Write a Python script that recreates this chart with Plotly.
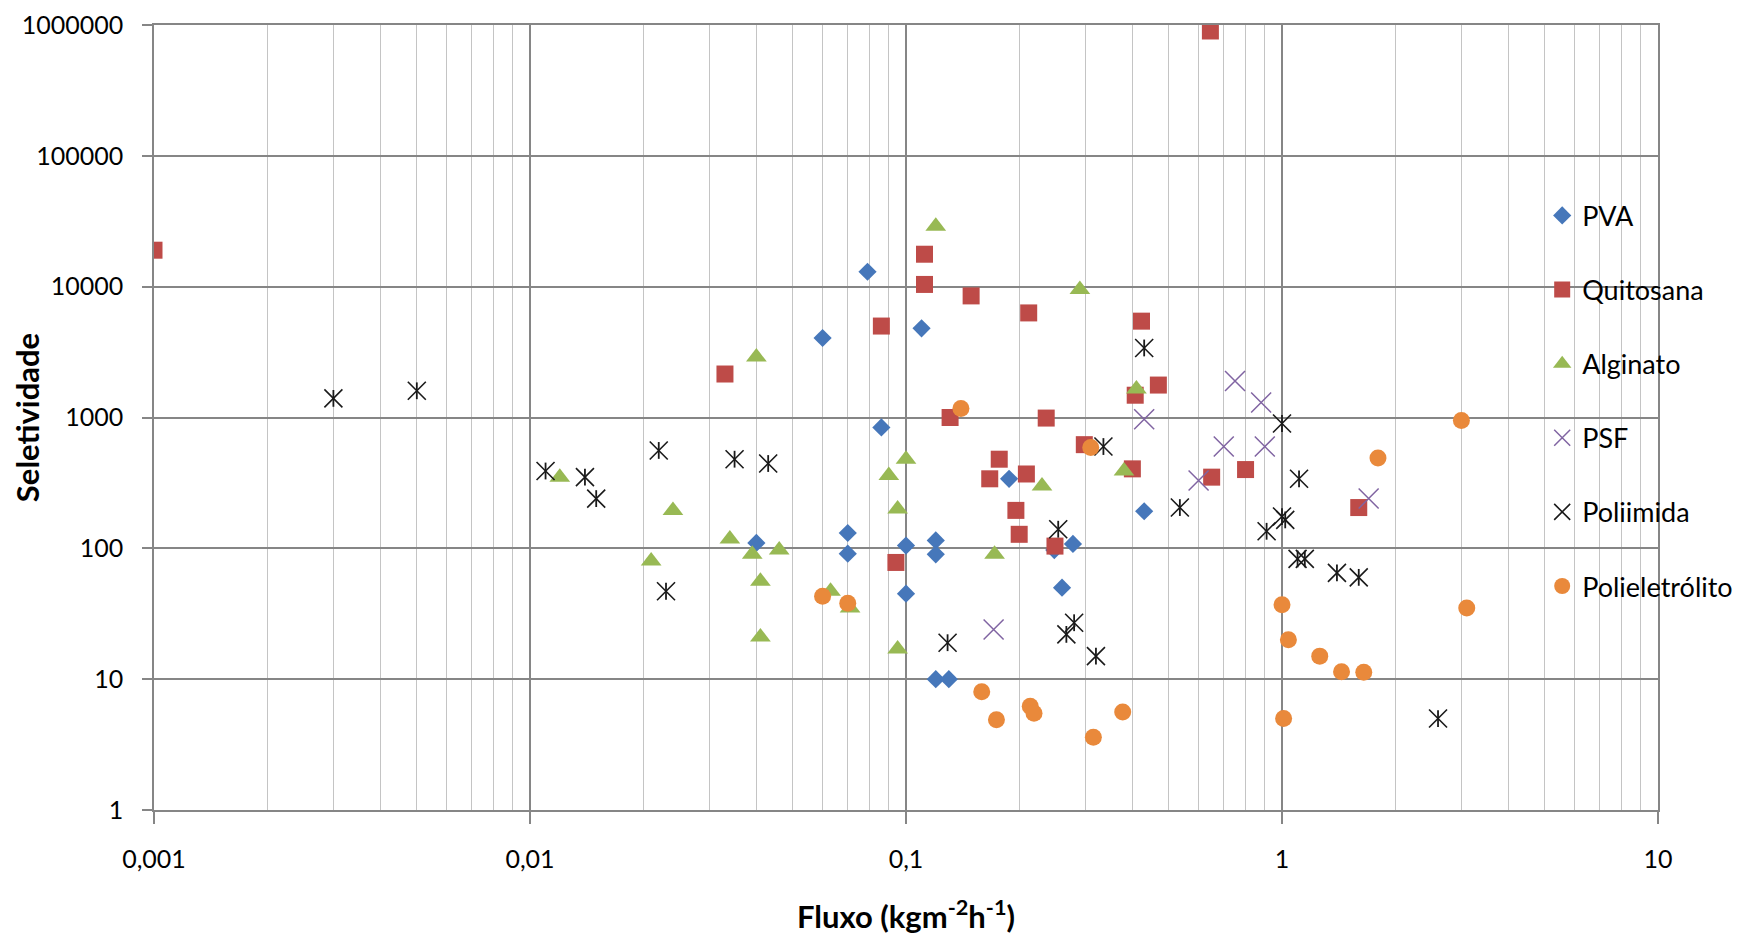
import plotly.graph_objects as go

# ---------------- data ----------------
pva_x = [0.079, 0.06, 0.11, 0.086, 0.188, 0.43, 0.04, 0.07, 0.07, 0.1, 0.12, 0.12, 0.1, 0.278, 0.26, 0.12, 0.13, 0.248]
pva_y = [13000, 4050, 4800, 840, 340, 192, 110, 131, 91, 105, 115, 90, 45, 108, 50, 10, 10, 97]

quit_x = [0.001, 0.645, 0.112, 0.112, 0.149, 0.212, 0.423, 0.086, 0.033, 0.469, 0.407, 0.131, 0.236,
          0.298, 0.177, 0.4, 0.8, 0.209, 0.167, 0.65, 0.196, 1.6, 0.2, 0.249, 0.094]
quit_y = [19000, 900000, 17700, 10400, 8500, 6300, 5450, 5000, 2150, 1770, 1480, 1000, 990,
          620, 480, 405, 400, 370, 340, 350, 195, 205, 128, 104, 78]

alg_x = [0.12, 0.29, 0.04, 0.41, 0.1, 0.38, 0.09, 0.012, 0.23, 0.095, 0.024, 0.034, 0.046, 0.039,
         0.172, 0.021, 0.041, 0.063, 0.071, 0.041, 0.095]
alg_y = [29000, 9500, 2900, 1650, 480, 390, 360, 350, 300, 200, 195, 118, 97, 90,
         90, 80, 56, 47, 35, 21, 17]

psf_x = [0.75, 0.88, 0.43, 0.7, 0.9, 0.6, 1.7, 0.171]
psf_y = [1900, 1300, 970, 600, 600, 330, 240, 24]

poli_x = [0.003, 0.005, 0.011, 0.014, 0.015, 0.022, 0.023, 0.035, 0.043, 0.43, 0.335, 1.0, 0.535,
          1.11, 0.254, 0.91, 1.0, 1.02, 1.1, 1.15, 1.4, 1.6, 2.6, 0.129, 0.28, 0.267, 0.32]
poli_y = [1400, 1600, 390, 350, 240, 560, 47, 480, 445, 3400, 600, 900, 205,
          340, 140, 135, 175, 165, 83, 83, 65, 60, 5, 19, 27, 22, 15]

pel_x = [0.14, 0.31, 1.8, 3.0, 0.06, 0.07, 1.0, 3.1, 1.04, 1.26, 1.44, 1.65, 0.159, 0.174,
         0.214, 0.219, 0.315, 0.377, 1.01]
pel_y = [1170, 590, 490, 950, 43, 38, 37, 35, 20, 15, 11.4, 11.3, 8, 4.9,
         6.2, 5.5, 3.6, 5.6, 5]

x_tickvals = [0.001, 0.01, 0.1, 1, 10]
x_ticktext = ["0,001", "0,01", "0,1", "1", "10"]
y_tickvals = [1, 10, 100, 1000, 10000, 100000, 1000000]
y_ticktext = ["1", "10", "100", "1000", "10000", "100000", "1000000"]

FONT = "Lato, 'Open Sans', sans-serif"
BLACK = "#1a1a1a"

fig = go.Figure()

fig.add_trace(go.Scatter(x=pva_x, y=pva_y, mode="markers", name="PVA", legendgroup="a",
                         marker=dict(symbol="diamond", size=14, color="#4677BA")))
fig.add_trace(go.Scatter(x=quit_x, y=quit_y, mode="markers", name="Quitosana", legendgroup="b",
                         marker=dict(symbol="square", size=17, color="#BE4B48")))
fig.add_trace(go.Scatter(x=alg_x, y=alg_y, mode="markers", name="Alginato", legendgroup="c",
                         marker=dict(symbol="triangle-up", size=18, color="#98B954")))
fig.add_trace(go.Scatter(x=psf_x, y=psf_y, mode="markers", name="PSF", legendgroup="d",
                         marker=dict(symbol="x-thin-open", size=20, color="#8064A2",
                                     line=dict(width=1.5, color="#8064A2"))))
fig.add_trace(go.Scatter(x=poli_x, y=poli_y, mode="markers", name="Poliimida", legendgroup="e",
                         marker=dict(symbol="x-thin-open", size=18, color=BLACK,
                                     line=dict(width=1.6, color=BLACK))))
fig.add_trace(go.Scatter(x=poli_x, y=poli_y, mode="markers", name="Poliimida", legendgroup="e",
                         showlegend=False, hoverinfo="skip",
                         marker=dict(symbol="line-ns-open", size=12, color=BLACK,
                                     line=dict(width=1.8, color=BLACK))))
fig.add_trace(go.Scatter(x=pel_x, y=pel_y, mode="markers", name="Polieletrólito", legendgroup="f",
                         marker=dict(symbol="circle", size=17, color="#E9893B")))

fig.update_layout(
    width=1748, height=936,
    paper_bgcolor="white", plot_bgcolor="white",
    margin=dict(l=146, r=98, t=17, b=134, autoexpand=False),
    font=dict(family=FONT, size=25, color="#000000"),
    showlegend=True,
    legend=dict(x=0.923, xanchor="left", y=0.788, yanchor="top",
                font=dict(family=FONT, size=27, color="#000000"),
                bgcolor="rgba(0,0,0,0)", tracegroupgap=36, traceorder="grouped",
                itemsizing="trace"),
)

fig.update_xaxes(
    type="log", range=[-3, 1],
    tickvals=x_tickvals, ticktext=x_ticktext,
    tickfont=dict(family=FONT, size=25),
    ticks="outside", ticklen=12, tickcolor="#868686", tickwidth=1.5,
    ticklabelstandoff=14,
    showgrid=True, gridcolor="#868686", gridwidth=1.5,
    minor=dict(dtick="D1", showgrid=True, gridcolor="#c4c4c4", gridwidth=1.2, ticks=""),
    showline=True, linecolor="#868686", linewidth=1.5, mirror=True,
    zeroline=False,
    title=dict(text="<b>Fluxo (kgm<sup>-2</sup>h<sup>-1</sup>)</b>",
               font=dict(family=FONT, size=31), standoff=35),
)
fig.update_yaxes(
    type="log", range=[0, 6],
    tickvals=y_tickvals, ticktext=y_ticktext,
    tickfont=dict(family=FONT, size=25),
    ticks="outside", ticklen=10, tickcolor="#868686", tickwidth=1.5,
    ticklabelstandoff=14,
    showgrid=True, gridcolor="#868686", gridwidth=1.5,
    showline=True, linecolor="#868686", linewidth=1.5, mirror=True,
    zeroline=False,
    title=dict(text="<b>Seletividade</b>", font=dict(family=FONT, size=31), standoff=8),
)

fig.write_html("out.html")
